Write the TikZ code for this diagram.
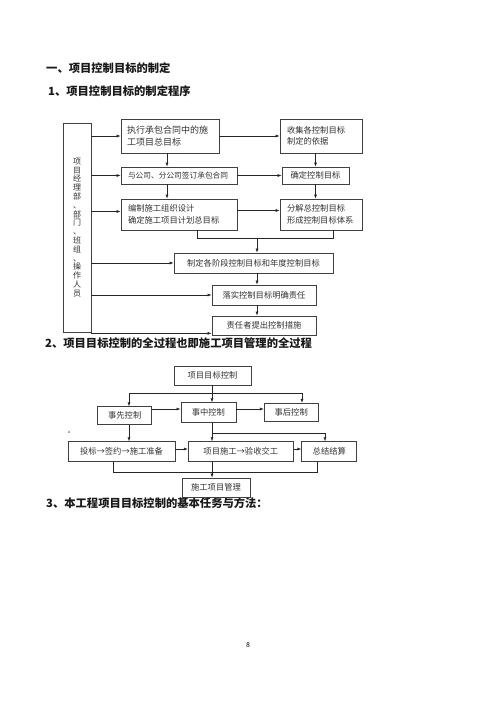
\documentclass[tikz,border=0pt]{standalone}
\usepackage{fontspec}
\newfontfamily\cjk{Noto Sans CJK SC}
\usetikzlibrary{arrows.meta}
\begin{document}
\begin{tikzpicture}[x=1pt,y=-1pt,
 box/.style={draw=black!75, line width=0.7pt, fill=white, font=\cjk\fontsize{8.3}{11}\selectfont, text=black!80, inner sep=0pt, align=center},
 arr/.style={-{Latex[length=4pt,width=3pt]}, line width=0.6pt, draw=black!85},
 ln/.style={line width=0.6pt, draw=black!85},
 head/.style={font=\cjk\bfseries\fontsize{11.3}{14}\selectfont, anchor=west, inner sep=0pt, text=black!90}]
\fill[white] (0,0) rectangle (500,707);
\useasboundingbox (0,0) rectangle (500,707);

% headings
\node[head] (h1) at (46,68) {一、项目控制目标的制定};
\node[head] (h2) at (48,91) {1、项目控制目标的制定程序};
\node[head] (h3) at (45,343) {2、项目目标控制的全过程也即施工项目管理的全过程};
\node[head] (h4) at (46,503) {3、本工程项目目标控制的基本任务与方法：};
\node[font=\cjk\fontsize{7}{8}\selectfont, inner sep=0pt] (pg) at (248,645) {8};

% section 1
\node[box, minimum width=28pt, minimum height=209pt, font=\cjk\fontsize{8}{8.8}\selectfont] (L) at (77,227.5)
 {项\\目\\经\\理\\部\\、\\部\\门\\、\\班\\组\\、\\操\\作\\人\\员};
\node[box, minimum width=98pt, minimum height=34pt, text width=86pt, align=left, font=\cjk\fontsize{9}{12.5}\selectfont] (A) at (170,136)
 {执行承包合同中的施\\工项目总目标};
\node[box, minimum width=82pt, minimum height=34pt, text width=68pt, align=left] (B) at (321,136)
 {收集各控制目标\\制定的依据};
\node[box, minimum width=116pt, minimum height=17pt, text width=102pt, align=left, font=\cjk\fontsize{7.7}{10}\selectfont] (C) at (179,175.5)
 {与公司、分公司签订承包合同};
\node[box, minimum width=67pt, minimum height=17pt] (D) at (315.5,175.5) {确定控制目标};
\node[box, minimum width=116pt, minimum height=31pt, text width=102pt, align=left, font=\cjk\fontsize{8.3}{12.5}\selectfont] (E) at (179,214.5)
 {编制施工组织设计\\确定施工项目计划总目标};
\node[box, minimum width=82pt, minimum height=31pt, text width=68pt, align=left, font=\cjk\fontsize{8.3}{12.5}\selectfont] (F) at (321,214.5)
 {分解总控制目标\\形成控制目标体系};
\node[box, minimum width=159pt, minimum height=20pt] (G) at (253.5,263) {制定各阶段控制目标和年度控制目标};
\node[box, minimum width=104pt, minimum height=20pt] (H) at (264,295) {落实控制目标明确责任};
\node[box, minimum width=104pt, minimum height=19pt] (I) at (264,325.5) {责任者提出控制措施};

\draw[arr] (L.east |- A.west) -- (A.west);
\draw[arr] (L.east |- C.west) -- (C.west);
\draw[arr] ([yshift=3pt]L.east |- E.west) -- ([yshift=3pt]E.west);
\draw[arr] (L.east |- G.west) -- (G.west);
\draw[arr] (L.east |- H.west) -- (H.west);
\draw[arr] ([yshift=2pt]L.east |- I.south west) -- ([yshift=2pt]I.south west);

\draw[arr] (A.east) -- (A.east -| B.west);
\draw[arr] (C.east) -- (C.east -| D.west);
\draw[arr] ([yshift=4pt]E.east) -- ([yshift=4pt]E.east -| F.west);
\draw[arr] ([xshift=-3pt]A.south) -- ([xshift=-3pt]A.south |- C.north);
\draw[arr] ([xshift=-12pt]C.south) -- ([xshift=-12pt]C.south |- E.north);
\draw[arr] (B.south -| D.north) -- (D.north);
\draw[arr] (D.south) -- (D.south |- F.north);

\coordinate (j1) at (197,238);
\coordinate (j2) at (333,238);
\coordinate (jm) at (257,238);
\draw[ln] (E.south -| j1) -- (j1) -- (j2) -- (F.south -| j2);
\draw[arr] (jm) -- (G.north -| jm);
\draw[arr] (G.south -| jm) -- (H.north -| jm);
\draw[arr] (H.south -| jm) -- (I.north -| jm);

% section 2
\node[box, minimum width=77pt, minimum height=19pt] (P) at (212.5,375.5) {项目目标控制};
\node[box, minimum width=54pt, minimum height=17.5pt] (Q1) at (124.7,415.5) {事先控制};
\node[box, minimum width=55pt, minimum height=19.5pt] (Q2) at (208.4,412.5) {事中控制};
\node[box, minimum width=54pt, minimum height=18.5pt] (Q3) at (291.2,412.5) {事后控制};
\node[box, minimum width=107pt, minimum height=20pt] (R1) at (121.5,451.7) {投标→签约→施工准备};
\node[box, minimum width=105pt, minimum height=20pt] (R2) at (240.8,451.7) {项目施工→验收交工};
\node[box, minimum width=55pt, minimum height=20pt] (R3) at (329.3,451.7) {总结结算};
\node[box, minimum width=68pt, minimum height=19pt] (S) at (216,487.5) {施工项目管理};
\node[font=\cjk\fontsize{4}{5}\selectfont, text=black!70, inner sep=0pt] (tinya) at (69,432) {a};

\coordinate (t1) at (129,393);
\coordinate (t2) at (302,393);
\coordinate (tm) at (212,393);
\draw[arr] (P.south -| tm) -- (Q2.north -| tm);
\draw[ln] (t1) -- (t2);
\draw[arr] (t1) -- (Q1.north -| t1);
\draw[arr] (t2) -- (Q3.north -| t2);
\draw[arr] (Q1.east |- tm |- 0,409) -- (Q2.west |- 0,409);
\draw[arr] (Q2.east |- 0,409) -- (Q3.west |- 0,409);

\draw[arr] (Q1.south -| t1) -- (R1.north -| t1);
\coordinate (u1) at (212,433);
\coordinate (u2) at (325,433);
\draw[arr] (Q2.south -| u1) -- (R2.north -| u1);
\draw[ln] (u1) -- (u2);
\draw[arr] (u2) -- (R3.north -| u2);
\draw[arr] (R1.east |- 0,449) -- (R2.west |- 0,449);
\draw[arr] (R2.east |- 0,449) -- (R3.west |- 0,449);

\coordinate (w1) at (113,472);
\coordinate (w2) at (317,472);
\draw[ln] (R1.south -| w1) -- (w1) -- (w2) -- (R3.south -| w2);
\draw[arr] (R2.south -| u1) -- (S.north -| u1);
\end{tikzpicture}
\end{document}
